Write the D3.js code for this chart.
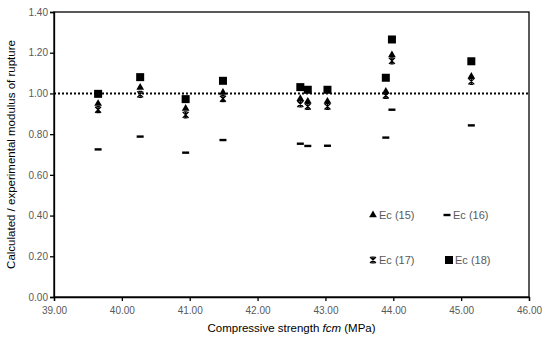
<!DOCTYPE html>
<html>
<head>
<meta charset="utf-8">
<script src="https://cdn.jsdelivr.net/npm/d3@7"></script>
<style>
    body { margin: 0; background: #fff; }
    text { font-family: Arial, "Liberation Sans", sans-serif; }
</style>
</head>
<body>
<div id="chart_container"></div>
<script>
// compressive strength of each specimen (MPa)
var fcm = [39.65, 40.27, 40.94, 41.49, 42.63, 42.74, 43.03, 43.89, 43.98, 45.15];

// calculated / experimental modulus of rupture, one array per Ec formula
var ec15 = [0.950, 1.029, 0.926, 1.005, 0.974, 0.961, 0.961, 1.010, 1.189, 1.083];
var ec16 = [0.725, 0.788, 0.709, 0.771, 0.753, 0.742, 0.743, 0.783, 0.920, 0.843];
var ec17 = [0.920, 0.995, 0.895, 0.974, 0.948, 0.936, 0.936, 0.990, 1.160, 1.059];
var ec18 = [0.998, 1.080, 0.972, 1.062, 1.031, 1.018, 1.018, 1.077, 1.265, 1.158];

var xTicks = [39, 40, 41, 42, 43, 44, 45, 46];
var yTicks = [0, 0.2, 0.4, 0.6, 0.8, 1.0, 1.2, 1.4];
var seriesNames = ["Ec (15)", "Ec (16)", "Ec (17)", "Ec (18)"];

draw_chart();

function draw_chart() {
    var chart_width = 550;
    var chart_height = 343;
    var margin = {top: 12, right: 21, bottom: 46, left: 54};
    var width = chart_width - margin.left - margin.right;
    var height = chart_height - margin.top - margin.bottom;

    var svg = d3.select("#chart_container")
                .append("svg")
                .attr("width", chart_width)
                .attr("height", chart_height);

    var plot = svg.append("g")
        .attr("transform", "translate(" + margin.left + "," + margin.top + ")");

    var x = d3.scaleLinear().domain([39, 46]).range([0, width]);
    var y = d3.scaleLinear().domain([0, 1.4]).range([height, 0]);

    // box round the plot area
    plot.append("rect")
        .attr("width", width)
        .attr("height", height)
        .attr("fill", "none")
        .attr("stroke", "#000")
        .attr("stroke-width", 1.3);

    var xAxis = d3.axisBottom(x).tickValues(xTicks).tickSize(4)
                  .tickFormat(d3.format(".2f"));
    var yAxis = d3.axisLeft(y).tickValues(yTicks).tickSize(4)
                  .tickFormat(d3.format(".2f"));

    var gx = plot.append("g")
        .attr("transform", "translate(0," + height + ")")
        .call(xAxis);
    var gy = plot.append("g").call(yAxis);

    [gx, gy].forEach(function(g) {
        g.select(".domain").attr("stroke", "#000").attr("stroke-width", 1.3);
        g.selectAll(".tick line").attr("stroke", "#000").attr("stroke-width", 1.3);
        g.selectAll(".tick text")
            .attr("fill", "#595959")
            .style("font-size", "10px")
            .style("font-family", "Arial, 'Liberation Sans', sans-serif");
    });
    gx.selectAll(".tick text").attr("dy", "0.95em");
    gy.selectAll(".tick text").attr("x", -6);

    // reference line at ratio 1.0
    plot.append("line")
        .attr("x1", 0)
        .attr("x2", width)
        .attr("y1", y(1))
        .attr("y2", y(1))
        .attr("stroke", "#000")
        .attr("stroke-width", 2)
        .attr("stroke-dasharray", "2,2");

    // Ec (16) dashes
    plot.selectAll(".m16")
        .data(ec16)
        .enter()
        .append("rect")
        .attr("class", "m16")
        .attr("x", function(d, i) { return x(fcm[i]) - 3.5; })
        .attr("y", function(d) { return y(d) - 1.2; })
        .attr("width", 7)
        .attr("height", 2.4)
        .attr("fill", "#000");

    // Ec (17) stars
    plot.selectAll(".m17")
        .data(ec17)
        .enter()
        .append("path")
        .attr("class", "m17")
        .attr("transform", function(d, i) { return "translate(" + x(fcm[i]) + "," + y(d) + ")"; })
        .attr("d", starPath(3))
        .attr("fill", "none")
        .attr("stroke", "#000")
        .attr("stroke-width", 1.2);

    // Ec (15) triangles
    plot.selectAll(".m15")
        .data(ec15)
        .enter()
        .append("path")
        .attr("class", "m15")
        .attr("transform", function(d, i) { return "translate(" + x(fcm[i]) + "," + y(d) + ")"; })
        .attr("d", d3.symbol().type(d3.symbolTriangle).size(26))
        .attr("fill", "#000");

    // Ec (18) squares
    plot.selectAll(".m18")
        .data(ec18)
        .enter()
        .append("rect")
        .attr("class", "m18")
        .attr("x", function(d, i) { return x(fcm[i]) - 4; })
        .attr("y", function(d) { return y(d) - 4; })
        .attr("width", 8)
        .attr("height", 8)
        .attr("fill", "#000");

    // Add legend
    var legend = svg.append("g").attr("id", "legend");
    var legendPos = [[373, 215], [447, 215], [373, 260], [449, 260]];

    legend.append("path")
        .attr("transform", "translate(" + legendPos[0][0] + "," + legendPos[0][1] + ")")
        .attr("d", d3.symbol().type(d3.symbolTriangle).size(26))
        .attr("fill", "#000");
    legend.append("rect")
        .attr("x", legendPos[1][0] - 3.5).attr("y", legendPos[1][1] - 1.2)
        .attr("width", 7).attr("height", 2.4)
        .attr("fill", "#000");
    legend.append("path")
        .attr("transform", "translate(" + legendPos[2][0] + "," + legendPos[2][1] + ")")
        .attr("d", starPath(3))
        .attr("fill", "none")
        .attr("stroke", "#000")
        .attr("stroke-width", 1.2);
    legend.append("rect")
        .attr("x", legendPos[3][0] - 4).attr("y", legendPos[3][1] - 4)
        .attr("width", 8).attr("height", 8)
        .attr("fill", "#000");

    legend.selectAll("text")
        .data(seriesNames)
        .enter()
        .append("text")
        .attr("x", function(d, i) { return legendPos[i][0] + 6; })
        .attr("y", function(d, i) { return legendPos[i][1]; })
        .attr("dy", "0.36em")
        .attr("fill", "#595959")
        .style("font-size", "11px")
        .text(function(d) { return d; });

    // Add the X label
    var xLabel = svg.append("text")
        .attr("x", margin.left + width / 2)
        .attr("y", 332)
        .attr("text-anchor", "middle")
        .attr("fill", "#000")
        .style("font-size", "11.5px");
    xLabel.append("tspan").text("Compressive strength ");
    xLabel.append("tspan").style("font-style", "italic").text("fcm");
    xLabel.append("tspan").text(" (MPa)");

    // Add the Y label
    svg.append("text")
        .attr("transform", "translate(15," + (margin.top + height / 2) + ") rotate(-90)")
        .attr("text-anchor", "middle")
        .attr("fill", "#000")
        .style("font-size", "11.5px")
        .text("Calculated / experimental modulus of rupture");
}

// Excel-like star marker: an x crossed by a vertical stroke, short bars top and bottom
function starPath(r) {
    var b = r * 0.6;
    return "M" + (-r) + "," + (-r) + "L" + r + "," + r +
           "M" + r + "," + (-r) + "L" + (-r) + "," + r +
           "M0," + (-r) + "L0," + r +
           "M" + (-b) + "," + (-r) + "L" + b + "," + (-r) +
           "M" + (-b) + "," + r + "L" + b + "," + r;
}
</script>
</body>
</html>
